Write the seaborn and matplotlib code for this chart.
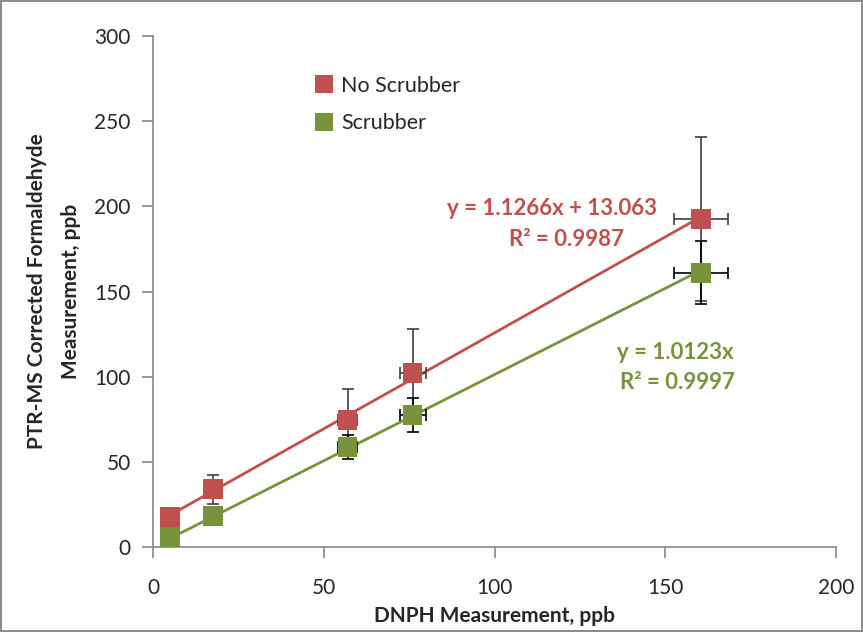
import numpy as np
import pandas as pd
import matplotlib
matplotlib.use('Agg')
import matplotlib.pyplot as plt
import seaborn as sns

# data
dnph = [5, 17.6, 57, 76, 160.5]
no_scrubber = [17.6, 34, 74.6, 102, 192.6]
scrubber = [5.9, 18.2, 58.7, 77.5, 161]
no_scrubber_err = [0, 8.5, 18, 26, 48]
scrubber_err = [0, 0, 7, 10, 18.5]
dnph_err = [0, 0, 2.8, 3.8, 8]

fit_no = (1.1266, 13.063)
fit_sc = (1.0123, 0.0)

red = '#C0504D'
green = '#77933C'

df = pd.DataFrame({'DNPH': dnph * 2,
                   'PTR': no_scrubber + scrubber,
                   'Series': ['No Scrubber'] * 5 + ['Scrubber'] * 5})

sns.set_theme(style='white')
plt.rcParams['font.family'] = ['Lato', 'DejaVu Sans']

fig = plt.figure(figsize=(8.63, 6.32), dpi=100)
fig.patch.set_edgecolor('#8c8c8c')
fig.patch.set_linewidth(1.5)
ax = fig.add_axes([153 / 863, 1 - 547 / 632, 683 / 863, 511 / 632])

# trend lines
xs = np.array([min(dnph), max(dnph)])
fits = pd.DataFrame({'x': np.concatenate([xs, xs]),
                     'y': np.concatenate([fit_no[0] * xs + fit_no[1], fit_sc[0] * xs + fit_sc[1]]),
                     'Series': ['No Scrubber'] * 2 + ['Scrubber'] * 2})
sns.lineplot(data=fits, x='x', y='y', hue='Series', palette=[red, green],
             linewidth=2, legend=False, ax=ax, zorder=2)

# error bars
ax.errorbar(dnph, no_scrubber, yerr=no_scrubber_err, xerr=dnph_err, fmt='none',
            ecolor='#404040', elinewidth=1.2, capsize=4, capthick=1.2, zorder=3)
ax.errorbar(dnph, scrubber, yerr=scrubber_err, xerr=dnph_err, fmt='none',
            ecolor='black', elinewidth=1.2, capsize=4, capthick=1.2, zorder=3)

sns.scatterplot(data=df, x='DNPH', y='PTR', hue='Series', palette=[red, green],
                marker='s', s=200, edgecolor='none', ax=ax, zorder=4)

ax.set_xlim(0, 200)
ax.set_ylim(0, 300)
ax.set_xticks([0, 50, 100, 150, 200])
ax.set_yticks(range(0, 301, 50))
for s in ['top', 'right']:
    ax.spines[s].set_visible(False)
for s in ['left', 'bottom']:
    ax.spines[s].set_color('#868686')
    ax.spines[s].set_linewidth(1.2)
ax.tick_params(axis='both', which='major', length=8, width=1.2, color='#868686',
               labelsize=15, direction='out')
ax.tick_params(axis='y', pad=8)
ax.tick_params(axis='x', pad=14)
ax.xaxis.set_ticks_position('bottom')
ax.yaxis.set_ticks_position('left')

ax.set_xlabel('DNPH Measurement, ppb', fontsize=15, fontweight='bold', labelpad=6)
ax.set_ylabel('PTR-MS Corrected Formaldehyde\nMeasurement, ppb', fontsize=15,
              fontweight='bold', labelpad=10, linespacing=1.85)

ax.text(116.8, 198.5, 'y = 1.1266x + 13.063', color=red, fontsize=16,
        fontweight='bold', ha='center', va='center')
ax.text(121.2, 180.3, 'R² = 0.9987', color=red, fontsize=16,
        fontweight='bold', ha='center', va='center')
ax.text(152.9, 113.9, 'y = 1.0123x', color=green, fontsize=16,
        fontweight='bold', ha='center', va='center')
ax.text(153.7, 96.3, 'R² = 0.9997', color=green, fontsize=16,
        fontweight='bold', ha='center', va='center')

leg = ax.legend(loc='upper left', bbox_to_anchor=(0.19, 0.96), frameon=False,
                fontsize=15.5, handletextpad=-0.2, labelspacing=0.8, markerscale=0.95)

fig.savefig('out.png', dpi=100)
